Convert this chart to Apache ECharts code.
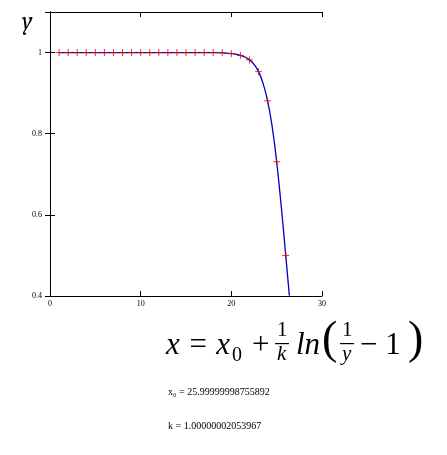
<!DOCTYPE html>
<html>
<head>
<meta charset="utf-8"/>
<script src="https://cdn.jsdelivr.net/npm/echarts@6/dist/echarts.min.js"></script>
<style>body{margin:0;background:#fff}#main{width:447px;height:455px}</style>
</head>
<body>
<div id="main"></div>
<script>
// measured points (red crosses)
var pointX = [1,2,3,4,5,6,7,8,9,10,11,12,13,14,15,16,17,18,19,20,21,22,23,24,25,26];
var pointY = [1,1,1,1,1,1,1,1,1,1,1,1,1,1,1,1,1,1,0.9999,0.9975,0.993,0.982,0.953,0.881,0.731,0.5];
// fitted curve (blue)
var curveX = [1,5,10,15,18,19,20,20.5,21,21.5,22,22.5,23,23.5,24,24.5,25,25.5,26,26.4];
var curveY = [1,1,1,1,0.9997,0.9991,0.9975,0.996,0.993,0.989,0.982,0.971,0.953,0.924,0.881,0.818,0.731,0.622,0.5,0.401];
var x0Text = 'x₀ = 25.99999998755892';
var kText = 'k = 1.00000002053967';

var font = '"Liberation Serif", serif';
var myChart = echarts.init(document.getElementById('main'));
function pairs(xs, ys) { return xs.map(function (x, i) { return [x, ys[i]]; }); }
var axisCommon = {
    axisLine: {lineStyle: {color: '#000', width: 1}},
    axisTick: {inside: true, length: 5, lineStyle: {color: '#000'}},
    splitLine: {show: false}
};
var mathStyle = {fontFamily: font, fontStyle: 'italic', fontSize: 31, fill: '#000'};
function t(x, y, s, extra) {
    return {type: 'text', left: x, top: y, style: Object.assign({text: s}, mathStyle, extra || {})};
}
option = {
    animation: false,
    grid: {left: 50, right: 125, top: 12, bottom: 159},
    xAxis: [Object.assign({type: 'value', min: 0, max: 30, interval: 10,
        axisLabel: {fontFamily: font, fontSize: 8, color: '#000', margin: 4}}, axisCommon),
        Object.assign({type: 'value', min: 0, max: 30, interval: 10, position: 'top',
        axisLabel: {show: false}}, axisCommon)],
    yAxis: [Object.assign({type: 'value', min: 0.4, max: 1.1, interval: 0.2,
        axisLabel: {fontFamily: font, fontSize: 8, color: '#000', margin: 8, showMaxLabel: false,
            formatter: function (v) { return Math.abs(v - 1) < 1e-9 ? '1' : v.toFixed(1); }}}, axisCommon),
        Object.assign({type: 'value', min: 0.4, max: 1.1, interval: 0.2, position: 'right',
        axisLabel: {show: false}}, axisCommon)],
    series: [{
        type: 'line', data: pairs(curveX, curveY), smooth: true, showSymbol: false, z: 2,
        lineStyle: {color: '#0000c0', width: 1.3}, clip: true
    }, {
        type: 'scatter', data: pairs(pointX, pointY), symbol: 'path://M0,5L10,5M5,0L5,10', z: 5,
        symbolSize: 7, itemStyle: {color: 'none', borderColor: '#e00000', borderWidth: 1}
    }],
    graphic: [
        t(22, 10, 'y', {fontSize: 24, fontFamily: 'Cambria, ' + font}),
        t(166, 330, 'x = x'),
        t(232, 346, '0', {fontSize: 20, fontStyle: 'normal'}),
        t(250, 330, '+'),
        t(277, 320, '1', {fontSize: 21, fontStyle: 'normal'}),
        {type: 'rect', shape: {x: 275, y: 343, width: 14, height: 1.2}, style: {fill: '#000'}},
        t(277, 344, 'k', {fontSize: 21}),
        t(296, 330, 'ln'),
        t(322, 318, '(', {fontSize: 46, fontStyle: 'normal'}),
        t(342, 320, '1', {fontSize: 21, fontStyle: 'normal'}),
        {type: 'rect', shape: {x: 340, y: 343, width: 14, height: 1.2}, style: {fill: '#000'}},
        t(342, 344, 'y', {fontSize: 21}),
        t(360, 330, '− 1', {fontStyle: 'normal'}),
        t(408, 318, ')', {fontSize: 46, fontStyle: 'normal'}),
        {type: 'text', left: 168, top: 387, style: {text: x0Text, fontFamily: font, fontSize: 10, fill: '#000'}},
        {type: 'text', left: 168, top: 421, style: {text: kText, fontFamily: font, fontSize: 10, fill: '#000'}}
    ]
};
myChart.setOption(option);
</script>
</body>
</html>
